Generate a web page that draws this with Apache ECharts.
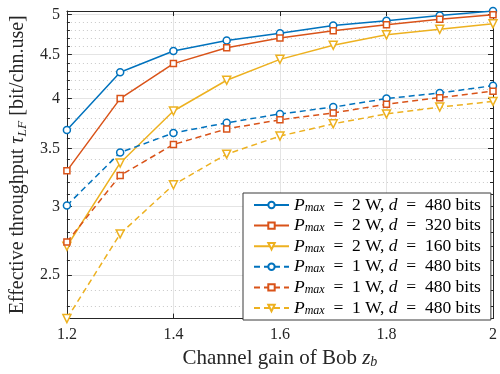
<!DOCTYPE html>
<html>
<head>
<meta charset="utf-8">
<script src="https://cdn.jsdelivr.net/npm/echarts@6/dist/echarts.min.js"></script>
<style>
html, body { margin: 0; padding: 0; background: #ffffff; }
#chart { width: 500px; height: 374px; }
</style>
</head>
<body>
<div id="chart"></div>
<script>
// Channel gain of Bob (x values)
const gains = [1.2, 1.3, 1.4, 1.5, 1.6, 1.7, 1.8, 1.9, 2.0];

// Effective throughput per configuration
const p2W_d480 = [3.68, 4.29, 4.54, 4.67, 4.76, 4.86, 4.92, 4.99, 5.05];
const p2W_d320 = [3.30, 4.00, 4.39, 4.58, 4.70, 4.79, 4.87, 4.94, 5.00];
const p2W_d160 = [2.70, 3.37, 3.87, 4.20, 4.44, 4.61, 4.74, 4.81, 4.88];
const p1W_a = [3.01, 3.465, 3.65, 3.75, 3.84, 3.91, 4.00, 4.06, 4.14];
const p1W_b = [2.73, 3.26, 3.54, 3.69, 3.78, 3.85, 3.94, 4.01, 4.08];
const p1W_c = [2.227, 2.79, 3.18, 3.45, 3.62, 3.74, 3.84, 3.91, 3.97];

// Tick values
const xTicks = [1.2, 1.4, 1.6, 1.8, 2];
const yTicks = [2.5, 3, 3.5, 4, 4.5, 5];
const yMinorTicks = [2.3, 2.4, 2.6, 2.7, 2.8, 2.9, 3.1, 3.2, 3.3, 3.4, 3.6, 3.7, 3.8, 3.9,
                     4.1, 4.2, 4.3, 4.4, 4.6, 4.7, 4.8, 4.9];

// Legend labels (en spaces around the relations)
const EQ = '\u2002=\u2002';
const legendLabels = {
  s1: '{i|P}{s|max}{t|' + EQ + '2 W, }{i|d}{t|' + EQ + '480 bits}',
  s2: '{i|P}{s|max}{t|' + EQ + '2 W, }{i|d}{t|' + EQ + '320 bits}',
  s3: '{i|P}{s|max}{t|' + EQ + '2 W, }{i|d}{t|' + EQ + '160 bits}',
  s4: '{i|P}{s|max}{t|' + EQ + '1 W, }{i|d}{t|' + EQ + '480 bits}',
  s5: '{i|P}{s|max}{t|' + EQ + '1 W, }{i|d}{t|' + EQ + '480 bits}',
  s6: '{i|P}{s|max}{t|' + EQ + '1 W, }{i|d}{t|' + EQ + '480 bits}'
};

const BLUE = '#0072BD', ORANGE = '#D95319', YELLOW = '#EDB120';
const FONT = 'Liberation Serif';
const AXIS_COLOR = '#262626';

const allValues = [].concat(p2W_d480, p2W_d320, p2W_d160, p1W_a, p1W_b, p1W_c);
const yMin = Math.min.apply(null, allValues);
const yMax = Math.max.apply(null, allValues);

function pairs(ys) { return gains.map((g, i) => [g, ys[i]]); }

function makeSeries(name, ys, color, symbol, size, dashed) {
  return {
    name: name,
    type: 'line',
    data: pairs(ys),
    symbol: symbol,
    symbolSize: size,
    symbolRotate: symbol === 'triangle' ? 180 : 0,
    showAllSymbol: true,
    color: color,
    lineStyle: { color: color, width: 1.5, type: dashed ? [6, 4] : 'solid' },
    itemStyle: { color: '#ffffff', borderColor: color, borderWidth: 1.5 },
    emphasis: { disabled: true },
    animation: false,
    z: 3
  };
}

const legendRich = {
  t: { fontFamily: FONT, fontSize: 17.5, color: '#000', lineHeight: 17 },
  i: { fontFamily: FONT, fontSize: 17.5, fontStyle: 'italic', color: '#000', lineHeight: 17 },
  s: { fontFamily: FONT, fontSize: 12, fontStyle: 'italic', color: '#000', lineHeight: 6, verticalAlign: 'bottom' }
};
function nameRich(size, subSize) {
  return {
    t: { fontFamily: FONT, fontSize: size, color: AXIS_COLOR, lineHeight: 22 },
    i: { fontFamily: FONT, fontSize: size, fontStyle: 'italic', color: AXIS_COLOR, lineHeight: 22 },
    s: { fontFamily: FONT, fontSize: subSize, fontStyle: 'italic', color: AXIS_COLOR, lineHeight: 8, verticalAlign: 'bottom' }
  };
}

const chart = echarts.init(document.getElementById('chart'), null, { renderer: 'canvas' });

const yBase = { type: 'log', logBase: 10, min: yMin, max: yMax, gridIndex: 0 };

chart.setOption({
  animation: false,
  backgroundColor: '#ffffff',
  grid: { left: 63.5, right: 1, top: 11, bottom: 49, containLabel: false },
  legend: {
    orient: 'vertical',
    left: 243,
    top: 193,
    padding: [3, 10, 3, 10],
    itemGap: 2.6,
    itemWidth: 35,
    itemHeight: 8,
    itemTextGap: 5,
    backgroundColor: '#ffffff',
    borderColor: '#3a3a3a',
    borderWidth: 1,
    borderRadius: 0,
    data: ['s1', 's2', 's3', 's4', 's5', 's6'],
    formatter: name => legendLabels[name],
    textStyle: { fontFamily: FONT, fontSize: 17.5, color: '#000', rich: legendRich }
  },
  xAxis: [
    {
      type: 'value', min: 1.2, max: 2, interval: 0.2, position: 'bottom',
      axisLine: { show: true, onZero: false, lineStyle: { color: AXIS_COLOR, width: 1 } },
      axisTick: { show: true, inside: true, length: 5, lineStyle: { color: AXIS_COLOR } },
      axisLabel: {
        color: AXIS_COLOR, fontFamily: FONT, fontSize: 16, margin: 8,
        formatter: v => String(Math.round(v * 10) / 10)
      },
      splitLine: { show: true, lineStyle: { color: '#e4e4e4', width: 1 } },
      name: '{t|Channel gain of Bob }{i|z}{s|b}',
      nameLocation: 'middle',
      nameGap: 10,
      nameTextStyle: {
        fontFamily: FONT, fontSize: 21, color: AXIS_COLOR, verticalAlign: 'top',
        rich: nameRich(21, 14)
      }
    },
    {
      type: 'value', min: 1.2, max: 2, interval: 0.2, position: 'top',
      axisLine: { show: true, onZero: false, lineStyle: { color: AXIS_COLOR, width: 1 } },
      axisTick: { show: true, inside: true, length: 5, lineStyle: { color: AXIS_COLOR } },
      axisLabel: { show: false },
      splitLine: { show: false }
    }
  ],
  yAxis: [
    Object.assign({}, yBase, {
      position: 'left',
      axisLine: { show: true, onZero: false, lineStyle: { color: AXIS_COLOR, width: 1 } },
      axisTick: { show: true, inside: true, length: 5, customValues: yTicks, lineStyle: { color: AXIS_COLOR } },
      axisLabel: {
        customValues: yTicks, color: AXIS_COLOR, fontFamily: FONT, fontSize: 16, margin: 7,
        formatter: v => String(v)
      },
      splitLine: { show: true, lineStyle: { color: '#e4e4e4', width: 1 } },
      name: '{t|Effective throughput }{i|τ}{s|LF}{t| [bit/chn.use]}',
      nameLocation: 'middle',
      nameGap: 32,
      nameTextStyle: { fontFamily: FONT, fontSize: 20, color: AXIS_COLOR, rich: nameRich(20, 13.5) }
    }),
    Object.assign({}, yBase, {
      position: 'right',
      axisLine: { show: true, onZero: false, lineStyle: { color: AXIS_COLOR, width: 1 } },
      axisTick: { show: true, inside: true, length: 5, customValues: yTicks, lineStyle: { color: AXIS_COLOR } },
      axisLabel: { show: false },
      splitLine: { show: false }
    }),
    Object.assign({}, yBase, {
      position: 'left',
      axisLine: { show: false },
      axisTick: { show: true, inside: true, length: 3, customValues: yMinorTicks, lineStyle: { color: AXIS_COLOR } },
      axisLabel: { show: false },
      splitLine: { show: true, lineStyle: { color: '#c8c8c8', width: 1, type: [1, 3] } }
    }),
    Object.assign({}, yBase, {
      position: 'right',
      axisLine: { show: false },
      axisTick: { show: true, inside: true, length: 3, customValues: yMinorTicks, lineStyle: { color: AXIS_COLOR } },
      axisLabel: { show: false },
      splitLine: { show: false }
    })
  ],
  series: [
    makeSeries('s1', p2W_d480, BLUE, 'circle', 7, false),
    makeSeries('s2', p2W_d320, ORANGE, 'rect', 6, false),
    makeSeries('s3', p2W_d160, YELLOW, 'triangle', 8, false),
    makeSeries('s4', p1W_a, BLUE, 'circle', 7, true),
    makeSeries('s5', p1W_b, ORANGE, 'rect', 6, true),
    makeSeries('s6', p1W_c, YELLOW, 'triangle', 8, true)
  ]
});
</script>
</body>
</html>
